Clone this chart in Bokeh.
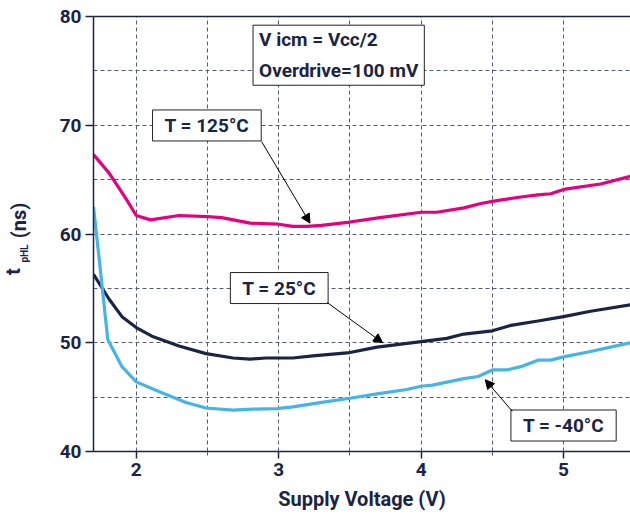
import numpy as np
from bokeh.plotting import figure
from bokeh.layouts import row
from bokeh.models import (Range1d, FixedTicker, LinearAxis, Label, Arrow, NormalHead)
from bokeh.core.properties import value
from bokeh.embed import file_html
from bokeh.resources import INLINE

# ---- data ----
x_125 = [1.70, 1.81, 1.93, 2.00, 2.10, 2.30, 2.50, 2.60, 2.80, 3.00, 3.10, 3.20, 3.30, 3.50, 3.71,
         4.00, 4.11, 4.30, 4.42, 4.50, 4.70, 4.82, 4.91, 5.00, 5.26, 5.47]
y_125 = [67.3, 65.6, 63.2, 61.7, 61.3, 61.7, 61.6, 61.5, 61.0, 60.9, 60.7, 60.7, 60.8, 61.1, 61.5,
         62.0, 62.0, 62.4, 62.8, 63.0, 63.4, 63.6, 63.7, 64.1, 64.6, 65.3]

x_25 = [1.70, 1.81, 1.90, 2.00, 2.11, 2.30, 2.49, 2.68, 2.80, 2.91, 3.10, 3.24, 3.50, 3.69, 4.00,
        4.18, 4.30, 4.50, 4.63, 4.82, 5.00, 5.19, 5.47]
y_25 = [56.3, 54.0, 52.4, 51.4, 50.6, 49.7, 49.0, 48.6, 48.5, 48.6, 48.6, 48.8, 49.1, 49.6, 50.1,
        50.4, 50.8, 51.1, 51.6, 52.0, 52.4, 52.9, 53.5]

x_m40 = [1.70, 1.74, 1.80, 1.90, 2.00, 2.18, 2.35, 2.49, 2.68, 2.82, 2.99, 3.10, 3.29, 3.50, 3.69,
         3.90, 4.00, 4.08, 4.30, 4.40, 4.50, 4.60, 4.70, 4.82, 4.91, 5.00, 5.19, 5.33, 5.47]
y_m40 = [62.5, 57.7, 50.3, 47.8, 46.4, 45.4, 44.5, 44.0, 43.8, 43.9, 43.95, 44.1, 44.5, 44.9, 45.3,
         45.7, 46.0, 46.1, 46.7, 46.9, 47.5, 47.5, 47.8, 48.4, 48.4, 48.7, 49.2, 49.6, 50.0]

x_ticks = [2, 3, 4, 5]
y_ticks = [40, 50, 60, 70, 80]
x_grid = [2, 2.5, 3, 3.5, 4, 4.5, 5, 5.5]
y_grid = [45, 50, 55, 60, 65, 70, 75]

NAVY = "#1b2444"
FONT = "Roboto"
LABW = 40

p = figure(width=630 - LABW, height=518, output_backend="svg", toolbar_location=None,
           x_range=Range1d(1.7, 5.47), y_range=Range1d(40, 80),
           min_border_left=93 - LABW, min_border_right=0, min_border_top=16, min_border_bottom=67)
p.outline_line_color = None
p.background_fill_color = "white"

# grids
p.xgrid.ticker = FixedTicker(ticks=x_grid)
p.ygrid.ticker = FixedTicker(ticks=y_grid)
for g in (p.xgrid, p.ygrid):
    g.grid_line_color = "#555c70"
    g.grid_line_dash = "4 3"
    g.grid_line_width = 1

# axes
p.xaxis.ticker = FixedTicker(ticks=x_ticks, minor_ticks=[2.5, 3.5, 4.5, 5.5])
p.yaxis.ticker = FixedTicker(ticks=y_ticks)
for ax in (p.xaxis, p.yaxis):
    ax.axis_line_color = NAVY
    ax.axis_line_width = 1.5
    ax.major_tick_line_color = NAVY
    ax.major_tick_line_width = 1.5
    ax.major_tick_in = 0
    ax.major_label_text_font = FONT
    ax.major_label_text_font_style = "bold"
    ax.major_label_text_font_size = "19px"
    ax.major_label_text_color = NAVY
p.xaxis.major_tick_out = 7
p.xaxis.minor_tick_out = 4
p.xaxis.minor_tick_in = 0
p.xaxis.minor_tick_line_color = "#555c70"
p.xaxis.minor_tick_line_dash = "4 3"
p.xaxis.major_label_standoff = 4
p.yaxis.major_tick_out = 8
p.yaxis.minor_tick_line_color = None
p.yaxis.major_label_standoff = 4
p.xaxis.axis_label = "Supply Voltage (V)"
p.xaxis.axis_label_text_font = FONT
p.xaxis.axis_label_text_font_style = "bold"
p.xaxis.axis_label_text_font_size = "20px"
p.xaxis.axis_label_text_color = NAVY
p.xaxis.axis_label_standoff = 8

top = LinearAxis(ticker=FixedTicker(ticks=[]), major_label_text_font_size="0px",
                 major_tick_line_color=None, minor_tick_line_color=None,
                 axis_line_color=NAVY, axis_line_width=1.5)
p.add_layout(top, "above")

# curves
p.line(x_125, y_125, line_color="#e6007e", line_width=3.2)
p.line(x_25, y_25, line_color=NAVY, line_width=3.2)
p.line(x_m40, y_m40, line_color="#45b4e6", line_width=3.2)

def box(x, y, text, align="center", baseline="middle", pad=(12, 4), lh=1.2):
    p.add_layout(Label(x=x, y=y, x_units="data", y_units="data", text=text,
                       text_align=align, text_baseline=baseline,
                       text_font=FONT, text_font_style="bold", text_font_size="19px",
                       text_color=NAVY, text_line_height=lh,
                       border_line_color="#222222", border_line_width=1,
                       background_fill_color="white", padding=pad))

box(2.82, 79.2, "V icm = Vcc/2\nOverdrive=100 mV", align="left", baseline="top", pad=(6, 3), lh=1.35)
box(2.496, 69.98, "T = 125°C")
box(3.004, 55.03, "T = 25°C")
box(5.0, 42.39, "T = -40°C")

def arrow(x0, y0, x1, y1):
    p.add_layout(Arrow(x_start=x0, y_start=y0, x_end=x1, y_end=y1,
                       line_color="black", line_width=1,
                       end=NormalHead(size=9, fill_color="black", line_color="black")))

arrow(2.88, 68.5, 3.22, 61.0)
arrow(3.34, 53.7, 3.73, 50.0)
arrow(4.64, 43.7, 4.45, 46.6)

# y axis title  t_pHL (ns), drawn in a narrow strip to the left
# (the row aligns this strip's frame with the main frame, so it shares the y scale)
lab = figure(width=LABW, height=518, output_backend="svg", toolbar_location=None,
             x_axis_type=None, y_axis_type=None,
             x_range=Range1d(1, 1 + LABW), y_range=Range1d(40, 80),
             min_border_left=0, min_border_right=0, min_border_top=16, min_border_bottom=67)
lab.grid.visible = False
lab.outline_line_color = None
ylab_x = [13, 25, 19]
ylab_y = [56.55, 58.2, 61.24]
ylab_t = ["t", "pHL", "(ns)"]
ylab_s = ["20px", "10px", "20px"]
for xx, yy, tt, ss in zip(ylab_x, ylab_y, ylab_t, ylab_s):
    lab.text(x=[xx], y=[yy], text=[tt], angle=np.pi / 2, text_align="center",
             text_baseline="middle", text_font=value(FONT), text_font_style="bold",
             text_font_size=ss, text_color=NAVY)

layout = row(lab, p, spacing=0)
open("out.html", "w").write(file_html(layout, INLINE))
